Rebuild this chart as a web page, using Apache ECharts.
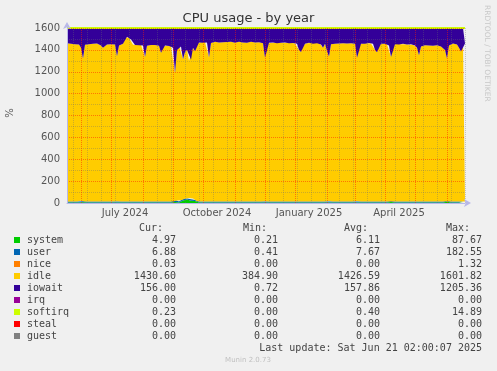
<!DOCTYPE html>
<html><head><meta charset="utf-8">
<script src="https://cdn.jsdelivr.net/npm/echarts@6/dist/echarts.min.js"></script>
<style>html,body{margin:0;padding:0;background:#f0f0f0;}#c{width:497px;height:371px;}</style>
</head><body><div id="c"></div>
<script>
// ---- axis definition ----
const START_DATE = '2024-05-18';
const STEP_DAYS = 2;
const POINTS = 200;
const xTickDates = ['2024-07-15', '2024-10-15', '2025-01-15', '2025-04-15'];
const xTickLabels = ['July 2024', 'October 2024', 'January 2025', 'April 2025'];

// ---- series values (one sample every 2 days) ----
const systemVals = [
5,5,5,5,5,5,5,12,8,5, 5,5,5,5,5,5,5,5,5,5, 5,5,5,5,5,9,5,5,5,5, 5,5,5,5,5,5,5,5,5,5,
5,5,5,5,5,5,5,5,5,5, 5,5,5,5,10,8,5,15,22,28, 32,25,20,30,18,8,5,5,5,5, 5,5,5,5,5,5,5,5,5,5,
5,5,5,5,5,5,5,5,5,5, 5,5,5,5,5,5,5,5,5,9, 5,5,5,5,5,5,5,5,5,5, 5,5,5,5,5,5,5,5,5,5,
5,5,5,5,5,5,5,5,5,5, 5,10,5,5,5,5,5,5,5,5, 5,5,5,5,5,10,5,5,5,5, 5,5,5,5,5,5,5,5,5,5,
5,5,10,5,5,5,5,5,5,5, 5,5,5,5,5,5,5,5,5,5, 5,5,5,5,5,5,5,5,5,5, 12,5,5,5,5,5,5,5,5,5];
const userVals = [
8,8,8,8,8,8,8,8,8,8, 8,8,8,8,8,8,8,8,8,8, 8,8,8,8,8,8,8,8,8,8, 8,8,8,8,8,8,8,8,8,8,
8,8,8,8,8,8,8,8,8,8, 8,8,8,8,18,15,8,10,14,12, 10,20,15,12,10,8,8,8,8,8, 8,8,8,8,8,8,8,8,8,8,
8,8,8,8,8,8,8,8,8,8, 8,8,8,8,8,8,8,8,8,8, 8,8,8,8,8,8,8,8,8,8, 8,8,8,8,8,8,8,8,8,8,
8,8,8,8,8,8,8,8,8,8, 8,8,8,8,8,8,8,8,8,8, 8,8,8,8,8,8,8,8,8,8, 8,8,8,8,8,8,8,8,8,8,
8,8,8,8,8,8,8,8,8,8, 8,8,8,8,8,8,8,8,8,8, 8,8,8,8,8,8,8,8,8,8, 8,8,8,8,8,8,8,8,8,8];
const idleVals = [
1447,1443,1442,1437,1439,1442,1437,1400,1306,1435, 1437,1439,1437,1442,1442,1445,1443,1427,1407,1419,
1437,1442,1439,1445,1437,1325,1427,1439,1442,1502, 1507,1499,1482,1435,1432,1434,1429,1432,1427,1323,
1425,1435,1432,1429,1432,1427,1425,1360,1417,1427, 1425,1422,1419,1407,1160,1377,1427,1405,1279,1340,
1358,1255,1275,1378,1360,1444,1455,1457,1452,1459, 1455,1317,1449,1457,1462,1459,1455,1462,1457,1452,
1459,1457,1462,1455,1452,1459,1462,1457,1455,1459, 1452,1457,1462,1457,1455,1462,1457,1452,1447,1311,
1447,1452,1449,1455,1452,1447,1455,1452,1449,1455, 1452,1447,1452,1449,1445,1442,1387,1367,1432,1442,
1447,1452,1449,1442,1455,1447,1452,1437,1407,1442, 1377,1322,1439,1445,1442,1447,1445,1442,1447,1449,
1445,1442,1447,1445,1442,1310,1437,1442,1445,1442, 1447,1449,1445,1442,1387,1365,1437,1442,1445,1442,
1439,1427,1317,1432,1439,1442,1437,1439,1442,1439, 1437,1435,1439,1435,1427,1407,1337,1417,1427,1429,
1432,1427,1429,1425,1427,1429,1422,1417,1402,1387, 1302,1427,1442,1445,1442,1437,1407,1372,1437,1445];
const iowaitVals = [
140,144,145,150,148,145,150,180,278,152, 150,148,150,145,145,142,144,160,180,168,
150,145,148,142,150,258,160,148,145,85, 80,88,105,152,155,153,158,155,160,264,
162,152,155,158,155,160,162,227,170,160, 162,165,168,180,412,200,160,170,285,220,
200,300,290,180,212,140,132,130,135,128, 132,270,138,130,125,128,132,125,130,135,
128,130,125,132,135,128,125,130,132,128, 135,130,125,130,132,125,130,135,140,272,
140,135,138,132,135,140,132,135,138,132, 135,140,135,138,142,145,200,220,155,145,
140,135,138,145,132,140,135,150,180,145, 210,260,148,142,145,140,142,145,140,138,
142,145,140,142,145,272,150,145,142,145, 140,138,142,145,200,222,150,145,142,145,
148,160,265,155,148,145,150,148,145,148, 150,152,148,152,160,180,250,170,160,158,
155,160,158,162,160,158,165,170,185,200, 278,160,145,142,145,150,180,215,150,142];
const softirqVals = [
0.4,0.4,0.4,0.4,0.4,0.4,0.5,0.4,0.4,0.4, 0.4,0.4,0.4,0.4,0.4,0.4,0.4,0.4,0.4,0.4,
0.4,0.4,0.4,0.4,0.4,0.4,0.4,0.4,0.4,0.4, 0.4,0.4,0.4,0.4,0.4,0.4,0.4,0.4,0.4,0.4,
0.4,0.4,0.4,0.4,0.4,0.4,0.4,0.4,0.4,0.4, 0.4,0.4,0.4,0.4,0.6,0.5,0.4,0.5,0.6,0.6,
0.6,0.6,0.5,0.6,0.5,0.4,0.4,0.4,0.4,0.4, 0.4,0.4,0.4,0.4,0.4,0.4,0.4,0.4,0.4,0.4,
0.4,0.4,0.4,0.4,0.4,0.4,0.4,0.4,0.4,0.4, 0.4,0.4,0.4,0.4,0.4,0.4,0.4,0.4,0.4,0.4,
0.4,0.4,0.4,0.4,0.4,0.4,0.4,0.4,0.4,0.4, 0.4,0.4,0.4,0.4,0.4,0.4,0.4,0.4,0.4,0.4,
0.4,0.4,0.4,0.4,0.4,0.4,0.4,0.4,0.4,0.4, 0.4,0.4,0.4,0.4,0.4,0.4,0.4,0.4,0.4,0.4,
0.4,0.4,0.4,0.4,0.4,0.4,0.4,0.4,0.4,0.4, 0.4,0.4,0.4,0.4,0.4,0.4,0.4,0.4,0.4,0.4,
0.4,0.4,0.4,0.4,0.4,0.4,0.4,0.4,0.4,0.4, 0.4,0.4,0.4,0.4,0.4,0.4,0.4,0.4,0.4,0.4,
0.4,0.4,0.4,0.4,0.4,0.4,0.4,0.4,0.4,0.4, 0.4,0.4,0.4,0.4,0.4,0.4,0.4,0.4,0.3,0.2];

// ---- legend table ----
const legendNames  = ['system','user','nice','idle','iowait','irq','softirq','steal','guest'];
const legendColors = ['#00cc00','#0066b3','#ff8000','#ffcc00','#330099','#990099','#ccff00','#ff0000','#808080'];
const curVals = ['4.97','6.88','0.03','1430.60','156.00','0.00','0.23','0.00','0.00'];
const minVals = ['0.21','0.41','0.00','384.90','0.72','0.00','0.00','0.00','0.00'];
const avgVals = ['6.11','7.67','0.00','1426.59','157.86','0.00','0.40','0.00','0.00'];
const maxVals = ['87.67','182.55','1.32','1601.82','1205.36','0.00','14.89','0.00','0.00'];
const lastUpdate = 'Last update: Sat Jun 21 02:00:07 2025';

// ---- build categories ----
const days = [];
(function(){
  const s = new Date(START_DATE + 'T00:00:00Z').getTime();
  for (let i = 0; i < POINTS; i++) {
    const d = new Date(s + i * STEP_DAYS * 86400000);
    days.push(d.toISOString().slice(0, 10));
  }
})();
const labelMap = {};
xTickDates.forEach((d, k) => { labelMap[d] = xTickLabels[k]; });

const FONT = 'DejaVu Sans';
const MONO = 'DejaVu Sans Mono';
const majorGrid = { color: 'rgba(255,30,0,0.5)', type: [1, 1], width: 1 };
const minorGrid = { color: 'rgba(110,110,110,0.35)', type: [1, 1], width: 1 };

// vertical grid: month starts (major) and fortnight lines (minor), taken from the category axis
const gridMarks = [];
days.forEach((d, i) => {
  if (i > 0 && d.slice(0, 7) !== days[i - 1].slice(0, 7)) gridMarks.push({ xAxis: d, lineStyle: majorGrid });
  else if (i % 7 === 3) gridMarks.push({ xAxis: d, lineStyle: minorGrid });
});

function areaSeries(name, data, color) {
  return {
    name, type: 'line', stack: 'cpu', data, symbol: 'none', showSymbol: false,
    lineStyle: { width: 0 }, areaStyle: { color, opacity: 1 }, itemStyle: { color },
    animation: false, z: 2
  };
}

const graphic = [];
graphic.push({ type: 'text', x: 248.5, y: 19, style: { text: 'CPU usage - by year', font: '13px "' + FONT + '"', fill: '#333', align: 'center', verticalAlign: 'middle' } });
graphic.push({ type: 'text', x: 10, y: 113, rotation: Math.PI / 2, style: { text: '%', font: '10px "' + FONT + '"', fill: '#555', align: 'center', verticalAlign: 'middle' } });
graphic.push({ type: 'text', x: 487, y: 5, rotation: -Math.PI / 2, style: { text: 'RRDTOOL / TOBI OETIKER', font: '7.5px "' + FONT + '"', fill: '#c8c8c8', align: 'left', verticalAlign: 'middle' } });
const hdrX = [163, 267, 368, 470];
['Cur:', 'Min:', 'Avg:', 'Max:'].forEach((h, k) => {
  graphic.push({ type: 'text', x: hdrX[k], y: 228, style: { text: h, font: '10px "' + MONO + '"', fill: '#444', align: 'right', verticalAlign: 'middle' } });
});
const colX = [176, 278, 380, 482];
legendNames.forEach((n, k) => {
  const y = 240 + 12 * k;
  graphic.push({ type: 'rect', shape: { x: 14, y: y - 3, width: 6, height: 6 }, style: { fill: legendColors[k] } });
  graphic.push({ type: 'text', x: 27, y, style: { text: n, font: '10px "' + MONO + '"', fill: '#444', align: 'left', verticalAlign: 'middle' } });
  [curVals, minVals, avgVals, maxVals].forEach((arr, c) => {
    graphic.push({ type: 'text', x: colX[c], y, style: { text: arr[k], font: '10px "' + MONO + '"', fill: '#444', align: 'right', verticalAlign: 'middle' } });
  });
});
graphic.push({ type: 'text', x: 482, y: 348, style: { text: lastUpdate, font: '10px "' + MONO + '"', fill: '#444', align: 'right', verticalAlign: 'middle' } });
graphic.push({ type: 'text', x: 248, y: 360, style: { text: 'Munin 2.0.73', font: '7px "' + FONT + '"', fill: '#c0c0c0', align: 'center', verticalAlign: 'middle' } });

const chart = echarts.init(document.getElementById('c'), null, { renderer: 'canvas' });
chart.setOption({
  backgroundColor: '#f0f0f0',
  animation: false,
  grid: { left: 67, right: 32, top: 28, bottom: 168, containLabel: false },
  xAxis: {
    type: 'category', data: days, boundaryGap: false, z: 5,
    axisLine: { show: true, lineStyle: { color: '#b8b8e8', width: 1 }, symbol: ['none', 'arrow'], symbolSize: [6, 7], symbolOffset: [0, 6] },
    axisTick: { show: false },
    axisLabel: { interval: 0, hideOverlap: false, formatter: v => labelMap[v] || '', fontFamily: FONT, fontSize: 10, color: '#555', margin: 5 },
    splitLine: { show: false }
  },
  yAxis: {
    type: 'value', min: 0, max: 1600, interval: 200, z: 5,
    axisLine: { show: true, lineStyle: { color: '#b8b8e8', width: 1 }, symbol: ['none', 'arrow'], symbolSize: [6, 7], symbolOffset: [0, 6] },
    axisTick: { show: false },
    axisLabel: { fontFamily: FONT, fontSize: 10, color: '#555', margin: 7, formatter: v => String(v) },
    splitLine: { show: true, lineStyle: majorGrid },
    minorTick: { show: false, splitNumber: 2 },
    minorSplitLine: { show: true, lineStyle: minorGrid }
  },
  series: [
    areaSeries('system', systemVals, '#00cc00'),
    areaSeries('user', userVals, '#0066b3'),
    areaSeries('idle', idleVals, '#ffcc00'),
    areaSeries('iowait', iowaitVals, '#330099'),
    {
      name: 'softirq', type: 'line', stack: 'cpu', data: softirqVals, symbol: 'none', showSymbol: false,
      lineStyle: { width: 2, color: '#ccff00' }, areaStyle: { color: '#ccff00', opacity: 1 }, animation: false, z: 3,
      markLine: { silent: true, animation: false, symbol: ['none', 'none'], label: { show: false }, data: gridMarks }
    }
  ],
  graphic
});
</script></body></html>
